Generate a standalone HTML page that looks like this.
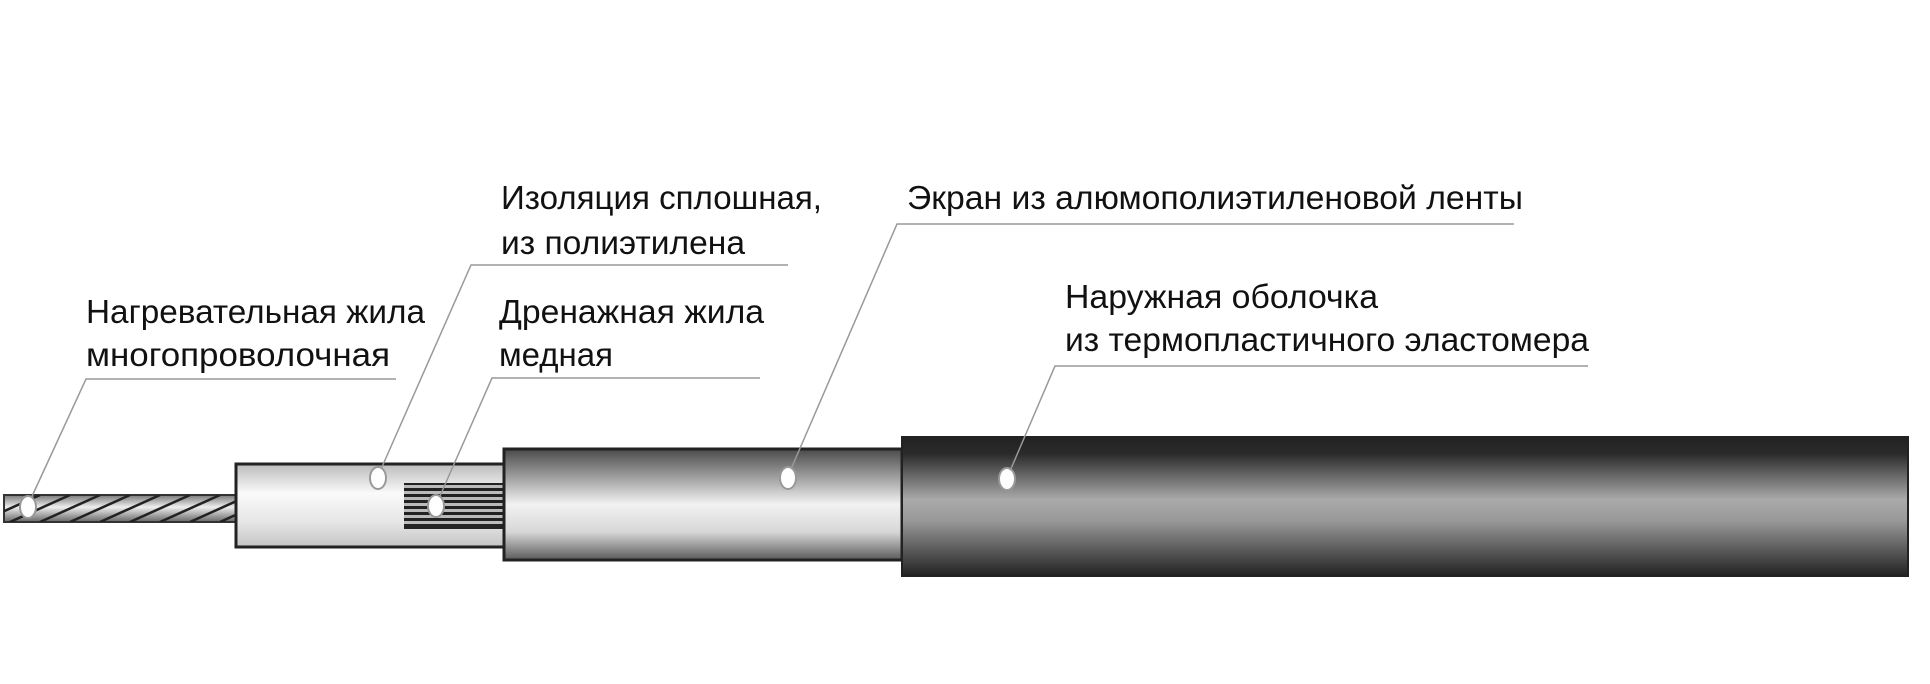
<!DOCTYPE html>
<html><head><meta charset="utf-8"><style>
html,body{margin:0;padding:0;background:#fff;width:1930px;height:684px;overflow:hidden}
text{font-family:"Liberation Sans Narrow","Liberation Sans",sans-serif;font-size:33px;fill:#111}
</style></head><body>
<svg width="1930" height="684" viewBox="0 0 1930 684" xmlns="http://www.w3.org/2000/svg">
<defs>
<linearGradient id="wire" x1="0" y1="0" x2="0" y2="1"><stop offset="0" stop-color="#777"/><stop offset="0.45" stop-color="#eee"/><stop offset="1" stop-color="#666"/></linearGradient>
<linearGradient id="ins" x1="0" y1="0" x2="0" y2="1"><stop offset="0" stop-color="#bbb"/><stop offset="0.35" stop-color="#fafafa"/><stop offset="0.7" stop-color="#e6e6e6"/><stop offset="1" stop-color="#c4c4c4"/></linearGradient>
<linearGradient id="scr" x1="0" y1="0" x2="0" y2="1"><stop offset="0" stop-color="#4a4a4a"/><stop offset="0.5" stop-color="#f2f2f2"/><stop offset="0.75" stop-color="#d6d6d6"/><stop offset="1" stop-color="#5a5a5a"/></linearGradient>
<linearGradient id="out" x1="0" y1="0" x2="0" y2="1"><stop offset="0" stop-color="#222"/><stop offset="0.12" stop-color="#2a2a2a"/><stop offset="0.45" stop-color="#aaa"/><stop offset="0.6" stop-color="#999"/><stop offset="1" stop-color="#222"/></linearGradient>
<clipPath id="wc"><rect x="4" y="495" width="232" height="27"/></clipPath>
</defs>
<!-- wire -->
<rect x="4" y="495" width="232" height="27" fill="url(#wire)" stroke="#333" stroke-width="2"/>
<g stroke="#222" stroke-width="2.5" fill="none" clip-path="url(#wc)">
<path d="M-20 522 L40 495 M10 522 L70 495 M40 522 L100 495 M70 522 L130 495 M100 522 L160 495 M130 522 L190 495 M160 522 L220 495 M190 522 L250 495 M220 522 L280 495"/>
</g>
<!-- insulation -->
<rect x="236" y="464" width="270" height="83" fill="url(#ins)" stroke="#222" stroke-width="3"/>
<!-- drain wires -->
<g>
<rect x="404" y="483" width="101" height="46" fill="#222"/>
<g fill="#bbb"><rect x="404" y="485" width="101" height="3"/><rect x="404" y="491" width="101" height="3"/><rect x="404" y="497" width="101" height="3"/><rect x="404" y="503" width="101" height="3"/><rect x="404" y="509" width="101" height="3"/><rect x="404" y="515" width="101" height="3"/><rect x="404" y="521" width="101" height="3"/></g>
</g>
<!-- screen -->
<rect x="504" y="449" width="398" height="111" fill="url(#scr)" stroke="#222" stroke-width="3"/>
<!-- outer -->
<rect x="902" y="437" width="1006" height="139" fill="url(#out)" stroke="#222" stroke-width="2"/>
<!-- leaders -->
<g stroke="#999" stroke-width="1.5" fill="none">
<path d="M396 379 H86 L28 505"/>
<path d="M788 265 H471 L378 476"/>
<path d="M760 378 H492 L436 505"/>
<path d="M1514 224 H897 L788 476"/>
<path d="M1588 366 H1055 L1007 478"/>
</g>
<!-- dots -->
<g fill="#fff" stroke="#999" stroke-width="2">
<ellipse cx="28" cy="507" rx="8" ry="11"/>
<ellipse cx="378" cy="478" rx="8" ry="11"/>
<ellipse cx="436" cy="506" rx="8" ry="11"/>
<ellipse cx="788" cy="478" rx="8" ry="11"/>
<ellipse cx="1007" cy="479" rx="8" ry="11"/>
</g>
<!-- labels -->
<text x="86" y="323" textLength="339" lengthAdjust="spacingAndGlyphs">Нагревательная жила</text>
<text x="86" y="366" textLength="304" lengthAdjust="spacingAndGlyphs">многопроволочная</text>
<text x="501" y="209" textLength="321" lengthAdjust="spacingAndGlyphs">Изоляция сплошная,</text>
<text x="501" y="254" textLength="244" lengthAdjust="spacingAndGlyphs">из полиэтилена</text>
<text x="499" y="323" textLength="265" lengthAdjust="spacingAndGlyphs">Дренажная жила</text>
<text x="499" y="366" textLength="114" lengthAdjust="spacingAndGlyphs">медная</text>
<text x="907" y="209" textLength="616" lengthAdjust="spacingAndGlyphs">Экран из алюмополиэтиленовой ленты</text>
<text x="1065" y="308" textLength="313" lengthAdjust="spacingAndGlyphs">Наружная оболочка</text>
<text x="1065" y="351" textLength="524" lengthAdjust="spacingAndGlyphs">из термопластичного эластомера</text>
</svg>
</body></html>
